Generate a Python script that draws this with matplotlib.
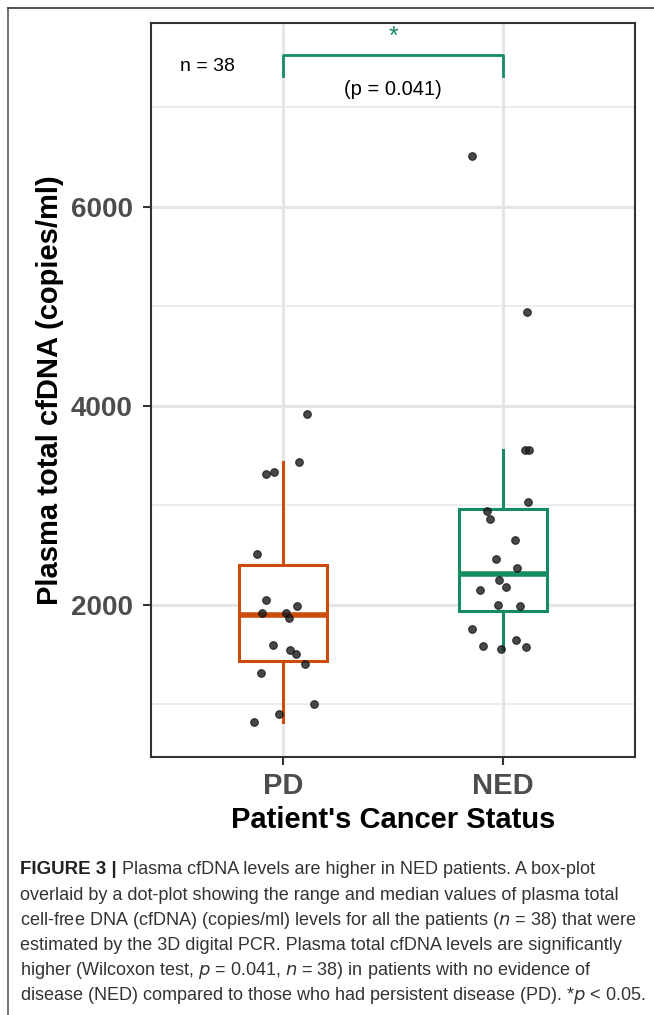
import matplotlib
matplotlib.use("Agg")
import matplotlib.pyplot as plt
from matplotlib.lines import Line2D
import numpy as np

# ---- data ----
categories = ["PD", "NED"]
pd_values = [3917, 3437, 3320, 3334, 2516, 2047, 1993, 1923, 1923, 1866,
             1598, 1551, 1504, 1410, 1320, 1002, 908, 821]
pd_jitter = [0.107, 0.071, -0.078, -0.041, -0.116, -0.077, 0.063, -0.095, 0.015, 0.026,
             -0.045, 0.030, 0.057, 0.098, -0.101, 0.140, -0.018, -0.130]
ned_values = [6511, 4940, 3555, 3555, 3032, 2948, 2868, 2653, 2459, 2369,
              2251, 2181, 2151, 1997, 1993, 1762, 1588, 1555, 1648, 1575]
ned_jitter = [-0.140, 0.109, 0.101, 0.116, 0.112, -0.071, -0.057, 0.056, -0.033, 0.065,
              -0.019, 0.014, -0.103, -0.023, 0.077, -0.142, -0.089, -0.008, 0.060, 0.105]
box_colors = ["#CC4D0B", "#158C5F"]
y_ticks = [2000, 4000, 6000]
y_minor = [1000, 3000, 5000, 7000]
n_text = "n = 38"
p_text = "(p = 0.041)"
sig_text = "*"
bracket_y = 7528
bracket_leg = 7317
ylim = (472, 7849)

plt.rcParams['font.family'] = ['Liberation Sans', 'DejaVu Sans']
plt.rcParams['mathtext.fontset'] = 'custom'
plt.rcParams['mathtext.rm'] = 'Liberation Sans Narrow'
plt.rcParams['mathtext.it'] = 'Liberation Sans Narrow:italic'

W, H = 654, 1015
fig = plt.figure(figsize=(W / 100, H / 100), dpi=100)
ax = fig.add_axes([151 / W, 1 - 757 / H, (635 - 151) / W, (757 - 23) / H])

positions = [1, 2]
ax.set_xlim(0.4, 2.6)
ax.set_ylim(*ylim)

# grid
for v in y_minor:
    ax.axhline(v, color="#EBEBEB", lw=1.3, zorder=0)
for v in y_ticks:
    ax.axhline(v, color="#E5E5E5", lw=2.2, zorder=0)
for p in positions:
    ax.axvline(p, color="#E5E5E5", lw=2.2, zorder=0)

data = [pd_values, ned_values]
for i, (vals, col) in enumerate(zip(data, box_colors)):
    ax.boxplot([vals], positions=[positions[i]], widths=0.40, showfliers=False,
               patch_artist=True, manage_ticks=False,
               boxprops=dict(facecolor="white", edgecolor=col, linewidth=2.2),
               whiskerprops=dict(color=col, linewidth=2.2),
               capprops=dict(linewidth=0),
               medianprops=dict(color=col, linewidth=4.0),
               zorder=2)

for i, (vals, jit) in enumerate([(pd_values, pd_jitter), (ned_values, ned_jitter)]):
    xs = [positions[i] + j for j in jit]
    ax.scatter(xs, vals, s=30, color="#1a1a1a", alpha=0.8, edgecolors="#111111",
               linewidths=0.8, zorder=3)

# significance bracket
ax.plot([1, 1, 2, 2], [bracket_leg, bracket_y, bracket_y, bracket_leg],
        color=box_colors[1], lw=2.0, zorder=4, clip_on=False)
ax.text(1.5, 7710, sig_text, color=box_colors[1], fontsize=18, ha="center", va="center")
ax.text(1.5, 7180, p_text, color="black", fontsize=14.5, ha="center", va="center")
ax.text(0.658, 7410, n_text, color="black", fontsize=14, ha="center", va="center")

ax.set_xticks(positions)
ax.set_xticklabels(categories, fontsize=21, fontweight="bold", color="#4D4D4D")
ax.set_yticks(y_ticks)
ax.set_yticklabels([str(v) for v in y_ticks], fontsize=20, fontweight="bold", color="#4D4D4D")
ax.tick_params(axis="y", length=6, width=1.5, color="#333333", pad=7)
ax.tick_params(axis="x", length=6, width=1.5, color="#333333", pad=5)
for s in ax.spines.values():
    s.set_color("#333333")
    s.set_linewidth(1.5)

ax.set_ylabel("Plasma total cfDNA (copies/ml)", fontsize=21, fontweight="bold", labelpad=5)
ax.set_xlabel("Patient's Cancer Status", fontsize=21, fontweight="bold", labelpad=4)

# figure frame (left + top rule)
fig.add_artist(Line2D([8 / W, 8 / W], [0, 1 - 8 / H], transform=fig.transFigure,
                      color="#666666", lw=1.3))
fig.add_artist(Line2D([8 / W, 1], [1 - 8 / H, 1 - 8 / H], transform=fig.transFigure,
                      color="#444444", lw=1.3))

# caption
cap_font = ['Liberation Sans Narrow', 'Liberation Sans']
cap_size = 13
lines = [
    "Plasma cfDNA levels are higher in NED patients. A box-plot",
    "overlaid by a dot-plot showing the range and median values of plasma total",
    "cell-free DNA (cfDNA) (copies/ml) levels for all the patients ($n$ = 38) that were",
    "estimated by the 3D digital PCR. Plasma total cfDNA levels are significantly",
    "higher (Wilcoxon test, $p$ = 0.041, $n$ = 38) in patients with no evidence of",
    "disease (NED) compared to those who had persistent disease (PD). *$p$ < 0.05.",
]
x0 = 20 / W
y0 = 870
dy = 25.2
renderer = fig.canvas.get_renderer()
t = fig.text(x0, 1 - y0 / H, "FIGURE 3 |", family=cap_font, fontsize=cap_size + 0.5,
             fontweight="bold", color="#222222", va="center", ha="left")
bb = t.get_window_extent(renderer=renderer)
fig.text(bb.x1 / W + 5 / W, 1 - y0 / H, lines[0], family=cap_font, fontsize=cap_size,
         color="#333333", va="center", ha="left")
for k, ln in enumerate(lines[1:], start=1):
    fig.text(x0, 1 - (y0 + k * dy) / H, ln, family=cap_font, fontsize=cap_size,
             color="#333333", va="center", ha="left")

fig.savefig("out.png", dpi=100)
